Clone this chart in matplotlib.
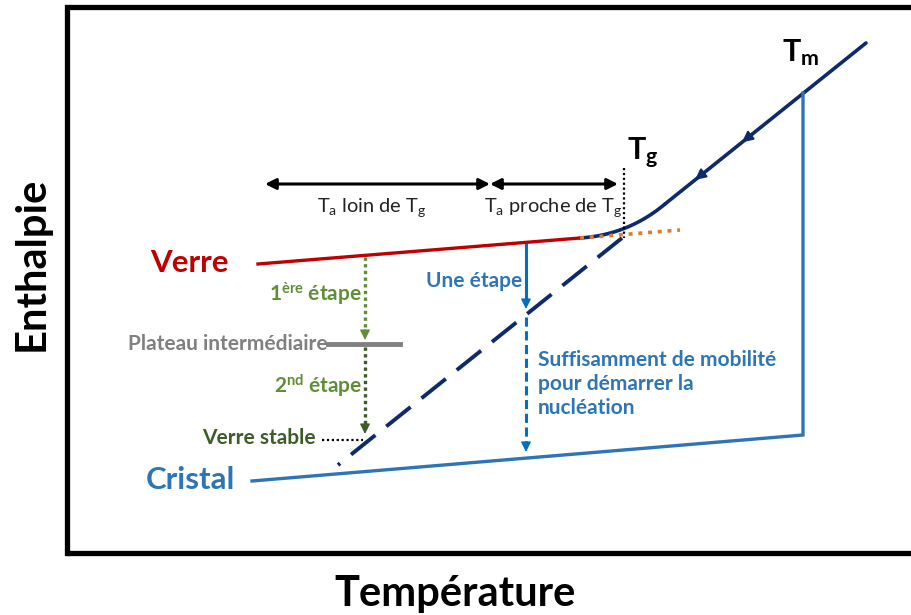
import matplotlib
matplotlib.use("Agg")
import matplotlib.pyplot as plt
import numpy as np

plt.rcParams['font.family'] = ['Lato', 'DejaVu Sans']
plt.rcParams['mathtext.default'] = 'regular'

# ---- schematic data (image pixel coordinates: x = temperature, y = enthalpy, downward) ----
liquid_T = [866, 665]            # straight liquid branch
liquid_H = [43, 204]
bend_T = [665, 628, 580]         # bend into the glass line (quadratic bezier control points)
bend_H = [204, 235, 238]
supercooled_T = [622, 338]       # dashed supercooled liquid extension
supercooled_H = [238, 465]
glass_T = [258, 580]             # glass line (red)
glass_H = [264, 238]
glass_ext_T = [580, 680]         # orange dotted extension
glass_ext_H = [238, 230]
crystal_T = [252, 803, 803]      # crystal line + melting vertical
crystal_H = [481, 435, 93]
tg_T = 624
tg_H = [168, 238]
arrow_pos_T = [742, 695]         # arrowheads on the liquid line
range_T = [265, 490, 618]        # double-arrow ranges
range_H = 184
two_step_T = 365
two_step_H = [257, 340, 347, 434]
plateau_T = [328, 400]
plateau_H = 344
stable_T = [322, 363]
stable_H = 440
one_step_T = 526
one_step_H = [245, 309, 317, 452]

fig = plt.figure(figsize=(9.11, 6.15), dpi=100)
ax = fig.add_axes([0, 0, 1, 1])
ax.set_xlim(0, 911)
ax.set_ylim(615, 0)
ax.axis('off')

# frame
ax.plot([67, 67, 930], [553, 7, 7], color='black', lw=3.8, solid_joinstyle='miter', clip_on=False)
ax.plot([67, 930], [553, 553], color='black', lw=3.8, solid_capstyle='butt')

NAVY = '#0d2a6b'
RED = '#c00000'
BLUE = '#2e75b6'
BLUE2 = '#0070c0'
GREEN = '#5e8f36'
DGREEN = '#3b5e26'
GRAY = '#808080'
ORANGE = '#e07a2e'

# liquid
ax.plot(liquid_T, liquid_H, color=NAVY, lw=2.6, solid_capstyle='round')
t = np.linspace(0, 1, 40)
bx = (1 - t) ** 2 * bend_T[0] + 2 * (1 - t) * t * bend_T[1] + t ** 2 * bend_T[2]
by = (1 - t) ** 2 * bend_H[0] + 2 * (1 - t) * t * bend_H[1] + t ** 2 * bend_H[2]
ax.plot(bx, by, color=NAVY, lw=2.6, solid_capstyle='round')
ax.plot(supercooled_T, supercooled_H, color=NAVY, lw=2.8, dashes=(8, 3.6))

slope = (liquid_H[1] - liquid_H[0]) / (liquid_T[1] - liquid_T[0])
for xa in arrow_pos_T:
    ya = liquid_H[0] + slope * (xa - liquid_T[0])
    ax.annotate('', xy=(xa, ya), xytext=(xa + 10, ya + 10 * slope),
                arrowprops=dict(arrowstyle='-|>', color=NAVY, lw=1.5, mutation_scale=16,
                                shrinkA=0, shrinkB=0))

# glass
ax.plot(glass_T, glass_H, color=RED, lw=2.4)
ax.plot(glass_ext_T, glass_ext_H, color=ORANGE, lw=2.6, dashes=(1.1, 1.6))

# crystal
ax.plot(crystal_T, crystal_H, color=BLUE, lw=2.4, solid_joinstyle='miter')

# Tg dotted line
ax.plot([tg_T, tg_T], tg_H, color='black', lw=1.6, dashes=(1, 1.2))

# range arrows
for a, b in [(range_T[0], range_T[1]), (range_T[1], range_T[2])]:
    ax.annotate('', xy=(b, range_H), xytext=(a, range_H),
                arrowprops=dict(arrowstyle='<|-|>', color='black', lw=2.2, mutation_scale=16,
                                shrinkA=0, shrinkB=0))

# two-step path
ax.plot([two_step_T] * 2, [two_step_H[0], two_step_H[1] - 8], color=GREEN, lw=2.4, dashes=(1, 1))
ax.annotate('', xy=(two_step_T, two_step_H[1]), xytext=(two_step_T, two_step_H[1] - 10),
            arrowprops=dict(arrowstyle='-|>', color=GREEN, lw=1, mutation_scale=15, shrinkA=0, shrinkB=0))
ax.plot(plateau_T, [plateau_H] * 2, color=GRAY, lw=3.5)
ax.plot([two_step_T] * 2, [two_step_H[2], two_step_H[3] - 8], color=DGREEN, lw=2.4, dashes=(1, 1))
ax.annotate('', xy=(two_step_T, two_step_H[3]), xytext=(two_step_T, two_step_H[3] - 10),
            arrowprops=dict(arrowstyle='-|>', color=DGREEN, lw=1, mutation_scale=15, shrinkA=0, shrinkB=0))
ax.plot(stable_T, [stable_H] * 2, color='black', lw=1.6, dashes=(1, 1.2))

# one-step path
ax.plot([one_step_T] * 2, [one_step_H[0], one_step_H[1] - 8], color=BLUE2, lw=2.2)
ax.annotate('', xy=(one_step_T, one_step_H[1]), xytext=(one_step_T, one_step_H[1] - 10),
            arrowprops=dict(arrowstyle='-|>', color=BLUE2, lw=1, mutation_scale=15, shrinkA=0, shrinkB=0))
ax.plot([one_step_T] * 2, [one_step_H[2], one_step_H[3] - 8], color=BLUE2, lw=2.2, dashes=(3, 1.5))
ax.annotate('', xy=(one_step_T, one_step_H[3]), xytext=(one_step_T, one_step_H[3] - 10),
            arrowprops=dict(arrowstyle='-|>', color=BLUE2, lw=1, mutation_scale=15, shrinkA=0, shrinkB=0))

# texts
ax.text(32, 264, 'Enthalpie', rotation=90, ha='center', va='center', fontsize=30, fontweight='bold')
ax.text(455, 594, 'Température', ha='center', va='center', fontsize=30, fontweight='bold')
ax.text(189, 263, 'Verre', ha='center', va='center', fontsize=22.5, fontweight='bold', color=RED)
ax.text(190, 480, 'Cristal', ha='center', va='center', fontsize=22.5, fontweight='bold', color=BLUE)
ax.text(782, 61, r'T$_{m}$', ha='left', va='baseline', fontsize=22, fontweight='bold')
ax.text(627, 160, r'T$_{g}$', ha='left', va='baseline', fontsize=22, fontweight='bold')
ax.text(372, 208, r'T$_{a}$ loin de T$_{g}$', ha='center', va='center', fontsize=14.4, color='#222222')
ax.text(553, 208, r'T$_{a}$ proche de T$_{g}$', ha='center', va='center', fontsize=14.4, color='#222222')
ax.text(522, 281, 'Une étape', ha='right', va='center', fontsize=15, fontweight='bold', color=BLUE)
ax.text(538, 384, 'Suffisamment de mobilité\npour démarrer la\nnucléation', ha='left', va='center',
        fontsize=15, fontweight='bold', color=BLUE, linespacing=1.25)
ax.text(362, 294, r'1$^{ère}$ étape', ha='right', va='center', fontsize=15, fontweight='bold', color=GREEN)
ax.text(362, 386, r'2$^{nd}$ étape', ha='right', va='center', fontsize=15, fontweight='bold', color=GREEN)
ax.text(328, 344, 'Plateau intermédiaire', ha='right', va='center', fontsize=15, fontweight='bold', color=GRAY)
ax.text(316, 438, 'Verre stable', ha='right', va='center', fontsize=15, fontweight='bold', color=DGREEN)

fig.savefig('out.png', dpi=100, facecolor='white')
